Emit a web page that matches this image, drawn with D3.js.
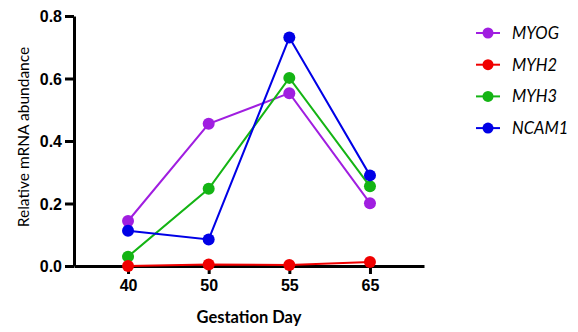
<!DOCTYPE html>
<html>
<head>
<meta charset="utf-8">
<script src="https://cdn.jsdelivr.net/npm/d3@7"></script>
<style>
  body { margin: 0; background: #fff; }
  svg { display: block; font-family: Lato, "Open Sans", sans-serif; }
</style>
</head>
<body>
<div id="chart"></div>
<script>
var width = 578,
    height = 332;

var days = ["40", "50", "55", "65"];
var genes = ["MYOG", "MYH2", "MYH3", "NCAM1"];
var colors = ["#a01ee0", "#f00000", "#14b414", "#0000e6"];
var myog = [0.144, 0.455, 0.553, 0.201];
var myh2 = [0.0, 0.005, 0.003, 0.013];
var myh3 = [0.03, 0.247, 0.602, 0.255];
var ncam1 = [0.113, 0.085, 0.731, 0.290];
var yTicks = [0, 0.2, 0.4, 0.6, 0.8];

var series = [
    {name: "MYOG", values: myog, color: colors[0]},
    {name: "MYH3", values: myh3, color: colors[2]},
    {name: "NCAM1", values: ncam1, color: colors[3]},
    {name: "MYH2", values: myh2, color: colors[1]}
];

var svg = d3.select("#chart").append("svg")
    .attr("width", width)
    .attr("height", height);

var x = d3.scalePoint()
    .domain(days)
    .range([74, 424])
    .padding(0.67);

var y = d3.scaleLinear()
    .domain([0, 0.8])
    .range([266, 16]);

// y axis
var yAxis = svg.append("g")
    .attr("transform", "translate(74,0)")
    .call(d3.axisLeft(y).tickValues(yTicks).tickSize(9).tickSizeOuter(0)
        .tickFormat(d3.format(".1f")));
yAxis.select(".domain").attr("stroke", "#000").attr("stroke-width", 3);
yAxis.selectAll(".tick line").attr("stroke", "#000").attr("stroke-width", 3);
yAxis.selectAll(".tick text")
    .attr("x", -12)
    .attr("dy", "0.36em")
    .style("font-size", "16px")
    .style("font-weight", "bold")
    .attr("fill", "#000");

// x axis
var xAxis = svg.append("g")
    .attr("transform", "translate(0,266)")
    .call(d3.axisBottom(x).tickSize(8).tickSizeOuter(0));
xAxis.select(".domain").attr("stroke", "#000").attr("stroke-width", 3);
xAxis.selectAll(".tick line").attr("stroke", "#000").attr("stroke-width", 3);
xAxis.selectAll(".tick text")
    .attr("y", 14)
    .style("font-size", "16px")
    .style("font-weight", "bold")
    .attr("fill", "#000");

svg.append("text")
    .attr("x", 249)
    .attr("y", 323)
    .attr("text-anchor", "middle")
    .style("font-size", "16.5px")
    .style("font-weight", "bold")
    .attr("fill", "#000")
    .text("Gestation Day");

svg.append("text")
    .attr("transform", "translate(29,137) rotate(-90)")
    .attr("text-anchor", "middle")
    .style("font-size", "15.5px")
    .attr("fill", "#000")
    .text("Relative mRNA abundance");

var line = d3.line()
    .x(function(d, i){ return x(days[i]); })
    .y(function(d){ return y(d); });

var g = svg.selectAll(".series")
    .data(series)
    .enter().append("g")
    .attr("class", "series");

g.append("path")
    .attr("d", function(d){ return line(d.values); })
    .attr("fill", "none")
    .attr("stroke", function(d){ return d.color; })
    .attr("stroke-width", 2);

g.selectAll("circle")
    .data(function(d){ return d.values.map(function(v, i){ return {v: v, i: i, color: d.color}; }); })
    .enter().append("circle")
    .attr("cx", function(d){ return x(days[d.i]); })
    .attr("cy", function(d){ return y(d.v); })
    .attr("r", 6)
    .attr("fill", function(d){ return d.color; });

// legend
var legend = svg.selectAll(".legend")
    .data(genes)
    .enter().append("g")
    .attr("class", "legend")
    .attr("transform", function(d, i){ return "translate(488," + (33 + i * 31.7) + ")"; });

legend.append("line")
    .attr("x1", -12).attr("x2", 12)
    .attr("stroke", function(d, i){ return colors[i]; })
    .attr("stroke-width", 2);

legend.append("circle")
    .attr("r", 5.5)
    .attr("fill", function(d, i){ return colors[i]; });

legend.append("text")
    .attr("x", 24)
    .attr("dy", "0.36em")
    .style("font-size", "16.5px")
    .style("font-style", "italic")
    .attr("fill", "#000")
    .text(function(d){ return d; });
</script>
</body>
</html>
